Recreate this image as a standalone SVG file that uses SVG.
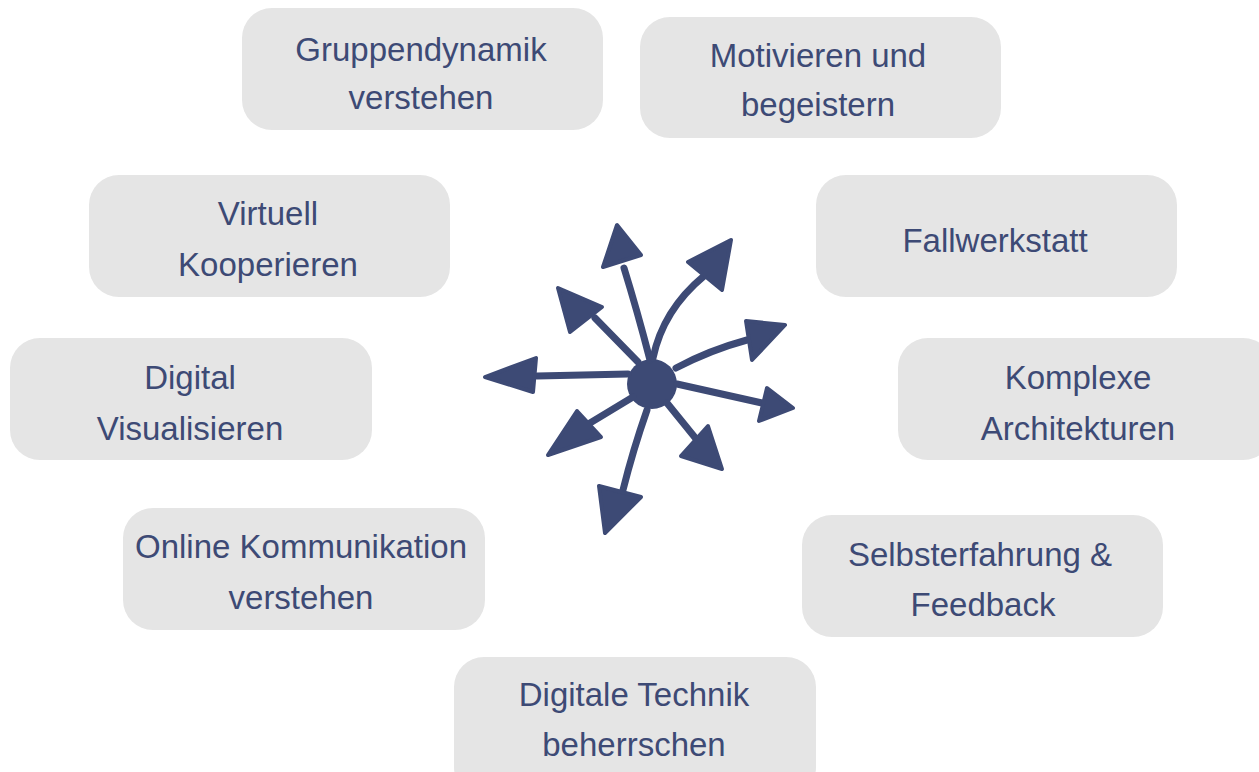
<svg xmlns="http://www.w3.org/2000/svg" width="1259" height="772" viewBox="0 0 1259 772">
<style>
.box{fill:#e5e5e5;}
.t{font-family:"Liberation Sans","DejaVu Sans",sans-serif;font-size:33px;fill:#3d4a75;text-anchor:middle;}
.ln{fill:none;stroke:#3d4a75;stroke-width:7;stroke-linecap:round;stroke-linejoin:round;}
.hd{fill:#3d4a75;stroke:#3d4a75;stroke-width:4;stroke-linejoin:round;}
</style>
<rect width="1259" height="772" fill="#ffffff"/>
<g id="n1"><rect class="box" x="242" y="8" width="361" height="122" rx="30"/><text class="t" x="421" y="61">Gruppendynamik</text><text class="t" x="421" y="109">verstehen</text></g>
<g id="n2"><rect class="box" x="640" y="17" width="361" height="121" rx="30"/><text class="t" x="818" y="67">Motivieren und</text><text class="t" x="818" y="116">begeistern</text></g>
<g id="n3"><rect class="box" x="89" y="175" width="361" height="122" rx="30"/><text class="t" x="268" y="225">Virtuell</text><text class="t" x="268" y="276">Kooperieren</text></g>
<g id="n4"><rect class="box" x="816" y="175" width="361" height="122" rx="30"/><text class="t" x="995" y="252">Fallwerkstatt</text></g>
<g id="n5"><rect class="box" x="10" y="338" width="362" height="122" rx="30"/><text class="t" x="190" y="389">Digital</text><text class="t" x="190" y="440">Visualisieren</text></g>
<g id="n6"><rect class="box" x="898" y="338" width="375" height="122" rx="30"/><text class="t" x="1078" y="389">Komplexe</text><text class="t" x="1078" y="440">Architekturen</text></g>
<g id="n7"><rect class="box" x="123" y="508" width="362" height="122" rx="30"/><text class="t" x="301" y="558">Online Kommunikation</text><text class="t" x="301" y="609">verstehen</text></g>
<g id="n8"><rect class="box" x="802" y="515" width="361" height="122" rx="30"/><text class="t" x="980" y="566">Selbsterfahrung &amp;</text><text class="t" x="983" y="616">Feedback</text></g>
<g id="n9"><rect class="box" x="454" y="657" width="362" height="140" rx="30"/><text class="t" x="634" y="706">Digitale Technik</text><text class="t" x="634" y="756">beherrschen</text></g>
<g id="connectors">
<circle cx="652" cy="384" r="25" fill="#3d4a75"/>
<path class="ln" d="M650 360 Q637 310 624 268"/>
<polygon class="hd" points="617,225 603,267 641,255"/>
<path class="ln" d="M653 358 Q663 310 704 276"/>
<polygon class="hd" points="731,240 688,262 722,290"/>
<path class="ln" d="M638 362 L595 318"/>
<polygon class="hd" points="558,288 570,332 602,307"/>
<path class="ln" d="M676 368 Q710 350 747 340"/>
<polygon class="hd" points="785,325 746,321 752,360"/>
<path class="ln" d="M628 374 L537 376"/>
<polygon class="hd" points="485,377 536,358 533,392"/>
<path class="ln" d="M677 384 L762 403"/>
<polygon class="hd" points="793,408 767,388 759,421"/>
<path class="ln" d="M633 397 L590 423"/>
<polygon class="hd" points="548,455 577,411 601,437"/>
<path class="ln" d="M667 403 L697 440"/>
<polygon class="hd" points="722,469 681,456 708,426"/>
<path class="ln" d="M647 410 Q633 450 623 490"/>
<polygon class="hd" points="605,533 599,486 641,497"/>
</g>
</svg>
